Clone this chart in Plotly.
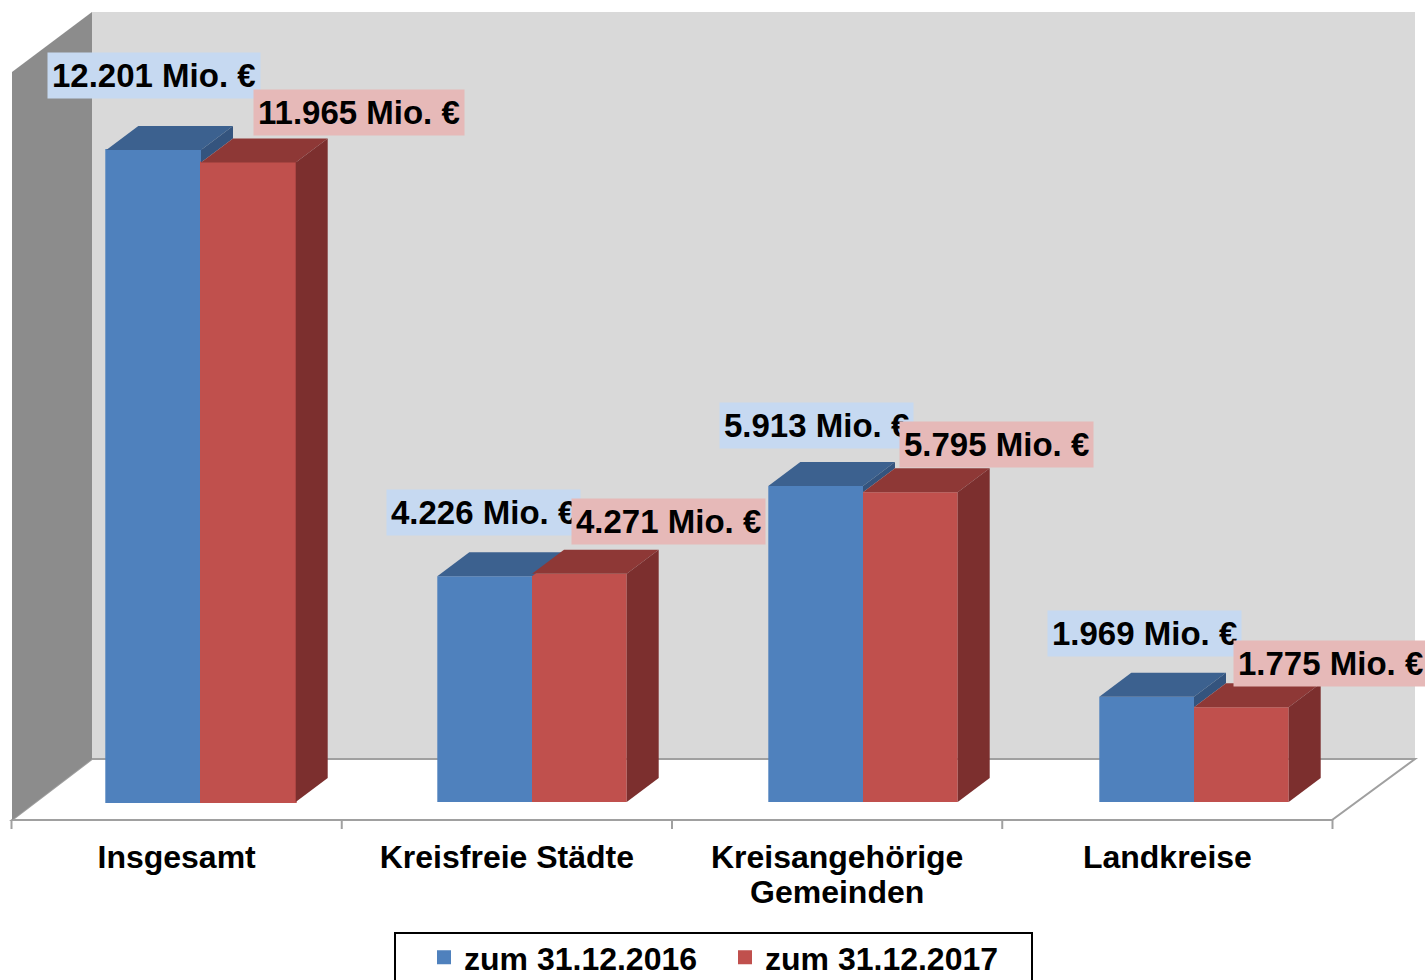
import plotly.graph_objects as go

categories = ["Insgesamt", "Kreisfreie Städte", "Kreisangehörige<br>Gemeinden", "Landkreise"]
series_names = ["zum 31.12.2016", "zum 31.12.2017"]
values_2016 = [12201, 4226, 5913, 1969]
values_2017 = [11965, 4271, 5795, 1775]
labels_2016 = ["12.201 Mio. €", "4.226 Mio. €", "5.913 Mio. €", "1.969 Mio. €"]
labels_2017 = ["11.965 Mio. €", "4.271 Mio. €", "5.795 Mio. €", "1.775 Mio. €"]

# label placement relative to the top-centre of each bar's front face (pixels)
label_dx_2016 = [0, -1, 1, -2]
label_dy_2016 = [74, 64, 61, 63]
label_dx_2017 = [111, 89, 86, 89]
label_dy_2017 = [50, 52, 48, 44]

W, H = 1425, 980
PX_CAT = 330.25
PX_VAL = 0.05344
X0_PX = 11.5
Y0_PX = 802
BOTTOM_PX = 832
xu = lambda px: (px - X0_PX) / PX_CAT          # pixel column -> category units
yu = lambda py: (Y0_PX - py) / PX_VAL          # pixel row -> value units
yp = lambda py: 1 - py / BOTTOM_PX             # pixel row -> paper units

bar_w = 94.7 / PX_CAT
dx = 32 / PX_CAT
dy = 24 / PX_VAL
centers = [i + 0.5 for i in range(len(categories))]
bar_x = [xu(201 + 331 * i) for i in range(len(categories))]

BLUE, BLUE_TOP, BLUE_SIDE = "#4F81BD", "#3C618F", "#34547E"
RED, RED_TOP, RED_SIDE = "#C0504D", "#8E3836", "#7C2F2E"

fig = go.Figure()
fig.add_bar(x=bar_x, y=values_2016, width=bar_w, offset=-bar_w,
            marker=dict(color=BLUE, line=dict(color=BLUE, width=[2, 0, 0, 0])), name=series_names[0])
fig.add_bar(x=bar_x, y=values_2017, width=bar_w, offset=0,
            marker=dict(color=RED, line=dict(color=RED, width=[2, 0, 0, 0])), name=series_names[1])


def poly(xs, ys, color):
    fig.add_trace(go.Scatter(x=xs, y=ys, mode="lines", fill="toself", fillcolor=color, line=dict(width=0),
                             showlegend=False, hoverinfo="skip"))


for m, v16, v17 in zip(bar_x, values_2016, values_2017):
    l = m - bar_w
    r = m + bar_w
    poly([l, m, m + dx, l + dx, l], [v16, v16, v16 + dy, v16 + dy, v16], BLUE_TOP)
    if v16 > v17:
        poly([m, m + dx, m + dx, m, m], [v16, v16 + dy, v17 + dy, v17, v16], BLUE_SIDE)
    poly([m, r, r + dx, m + dx, m], [v17, v17, v17 + dy, v17 + dy, v17], RED_TOP)
    poly([r, r + dx, r + dx, r, r], [0, dy, v17 + dy, v17, 0], RED_SIDE)

# Walls and floor
left, right = xu(12), xu(1332)
back_l, back_r = xu(92), xu(1415)
floor_front, floor_back = yu(820), yu(759)
wall_top, side_top = yu(12), yu(72)
shapes = [
    dict(type="path", path=f"M{back_l},{floor_back} L{back_r},{floor_back} L{back_r},{wall_top} L{back_l},{wall_top} Z",
         fillcolor="#D9D9D9", line_width=0, layer="below"),
    dict(type="path", path=f"M{left},{floor_front} L{back_l},{floor_back} L{back_r},{floor_back} L{right},{floor_front} Z",
         fillcolor="#FFFFFF", line=dict(color="#A0A0A0", width=2), layer="below"),
    dict(type="path", path=f"M{left},{floor_front} L{back_l},{floor_back} L{back_l},{wall_top} L{left},{side_top} Z",
         fillcolor="#8C8C8C", line_width=0, layer="below"),
]
for i in range(len(categories) + 1):
    shapes.append(dict(type="line", x0=i, x1=i, y0=floor_front, y1=yu(829), line=dict(color="#A0A0A0", width=2), layer="below"))
# legend frame (runs off the bottom of the page)
shapes.append(dict(type="rect", xref="paper", yref="paper", x0=395 / W, x1=1032 / W, y0=yp(933), y1=yp(1000),
                   fillcolor="rgba(0,0,0,0)", line=dict(color="black", width=2)))

LABEL_FONT = dict(family="Liberation Sans", size=33, color="black")
annos = []
for m, v, t, ox, oy in zip(bar_x, values_2016, labels_2016, label_dx_2016, label_dy_2016):
    annos.append(dict(x=m - bar_w / 2, y=v, text=f"<b>{t}</b>", showarrow=False, xanchor="center", yanchor="middle",
                      xshift=ox, yshift=oy, bgcolor="#C6D9F1", font=LABEL_FONT, borderpad=4))
for m, v, t, ox, oy in zip(bar_x, values_2017, labels_2017, label_dx_2017, label_dy_2017):
    annos.append(dict(x=m + bar_w / 2, y=v, text=f"<b>{t}</b>", showarrow=False, xanchor="center", yanchor="middle",
                      xshift=ox, yshift=oy, bgcolor="#E6B9B8", font=LABEL_FONT, borderpad=4))

ticktext = []
for c in categories:
    lines = [f"<span style='font-size:32px'><b>{p}</b></span>" for p in c.split("<br>")]
    ticktext.append("<br>".join(lines))

fig.update_layout(
    width=W, height=H, margin=dict(l=0, r=0, t=0, b=H - BOTTOM_PX, autoexpand=False),
    paper_bgcolor="white", plot_bgcolor="rgba(0,0,0,0)", barmode="overlay",
    font=dict(family="Liberation Sans", size=32, color="black"),
    xaxis=dict(range=[xu(0), xu(W)], tickmode="array", tickvals=centers, ticktext=ticktext,
               showgrid=False, zeroline=False, showline=False, ticks="", tickangle=0, ticklabelstandoff=7,
               tickfont=dict(family="Liberation Sans", size=27.5, color="black")),
    yaxis=dict(range=[yu(BOTTOM_PX), yu(0)], visible=False),
    shapes=shapes, annotations=annos, showlegend=True,
    legend=dict(orientation="h", x=424 / W, xanchor="left", y=yp(930), yanchor="top",
                entrywidth=256, entrywidthmode="pixels", traceorder="normal",
                bgcolor="rgba(0,0,0,0)", borderwidth=0,
                font=dict(family="Liberation Sans", size=32, color="black", weight="bold")),
)
fig.write_html("out.html", config=dict(displayModeBar=False),
               post_script="document.body.style.margin='0';document.body.style.overflow='hidden';")
